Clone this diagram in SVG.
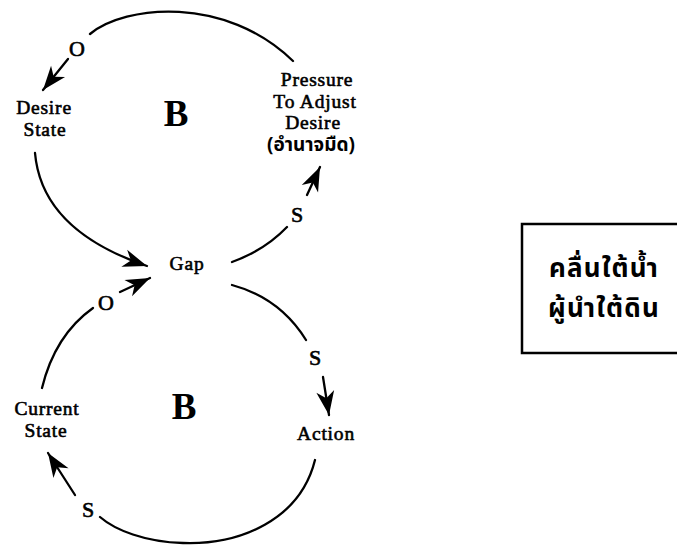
<svg xmlns="http://www.w3.org/2000/svg" width="677" height="546" viewBox="0 0 677 546">
  <defs>
    <style>
      .lbl { font-family: "Liberation Serif", "Times New Roman", serif; font-size: 19.5px; letter-spacing: 0.8px; fill: #000; stroke: #000; stroke-width: 0.6; text-anchor: middle; }
      .pol { font-family: "Liberation Serif", "Times New Roman", serif; font-size: 22px; fill: #000; stroke: #000; stroke-width: 0.6; text-anchor: middle; }
      .loop { font-family: "Liberation Serif", "Times New Roman", serif; font-size: 37px; font-weight: bold; fill: #000; text-anchor: middle; }
      .thai { font-family: "Noto Sans Thai", "Loma", "Garuda", sans-serif; fill: #000; }
      .link { fill: none; stroke: #000; stroke-width: 2.3; stroke-linecap: round; }
      .box { fill: none; stroke: #000; stroke-width: 2.5; }
    </style>
    <marker id="head" markerUnits="userSpaceOnUse" viewBox="-25 -10 27 20" refX="0" refY="0" markerWidth="27" markerHeight="20" orient="auto">
      <path d="M0,0 L-24,-9 L-17,0 L-24,9 Z" fill="#000"/>
    </marker>
  </defs>

  <!-- connectors -->
  <g id="connectors">
    <!-- upper loop -->
    <path class="link" d="M90,34 C125,5 225,-5 293,61"/>
    <path class="link" d="M68,59 L43,90" marker-end="url(#head)"/>
    <path class="link" d="M35,153 C40,210 85,245 147,266" marker-end="url(#head)"/>
    <path class="link" d="M232,262 Q265,250 287,227"/>
    <path class="link" d="M307,195 L320,167" marker-end="url(#head)"/>
    <!-- lower loop -->
    <path class="link" d="M232,285 Q280,298 306,340"/>
    <path class="link" d="M323,377 L329,415" marker-end="url(#head)"/>
    <path class="link" d="M315,460 C300,520 240,545 183,543 C145,542 115,530 100,517"/>
    <path class="link" d="M75,495 L48,453" marker-end="url(#head)"/>
    <path class="link" d="M42,388 Q55,335 93,308"/>
    <path class="link" d="M120,292 L150,278" marker-end="url(#head)"/>
  </g>

  <!-- polarity marks -->
  <g id="polarities">
    <text class="pol" x="77" y="56">O</text>
    <text class="pol" x="297" y="222">S</text>
    <text class="pol" x="315" y="365">S</text>
    <text class="pol" x="88" y="517">S</text>
    <text class="pol" x="106" y="310">O</text>
  </g>

  <!-- loop markers -->
  <g id="loops">
    <text class="loop" x="176" y="126">B</text>
    <text class="loop" x="184" y="419">B</text>
  </g>

  <g id="desire-state">
    <text class="lbl" x="44" y="114">Desire</text>
    <text class="lbl" x="45" y="135.5">State</text>
  </g>

  <g id="pressure">
    <text class="lbl" x="317" y="86">Pressure</text>
    <text class="lbl" x="315" y="107.5">To Adjust</text>
    <text class="lbl" x="313" y="129">Desire</text>
    <text class="thai" x="311" y="151" font-size="19" font-weight="bold" text-anchor="middle">(อำนาจมืด)</text>
  </g>

  <g id="gap">
    <text class="lbl" x="187" y="270">Gap</text>
  </g>

  <g id="action">
    <text class="lbl" x="326" y="440">Action</text>
  </g>

  <g id="current-state">
    <text class="lbl" x="47" y="415">Current</text>
    <text class="lbl" x="46" y="436.5">State</text>
  </g>

  <g id="note">
    <path class="box" d="M680,224 L522,224 L522,353 L680,353"/>
    <text class="thai" x="604" y="277" font-size="26" font-weight="bold" letter-spacing="1.2" text-anchor="middle">คลื่นใต้น้ำ</text>
    <text class="thai" x="604" y="317" font-size="26" font-weight="bold" letter-spacing="1.2" text-anchor="middle">ผู้นำใต้ดิน</text>
  </g>
</svg>
